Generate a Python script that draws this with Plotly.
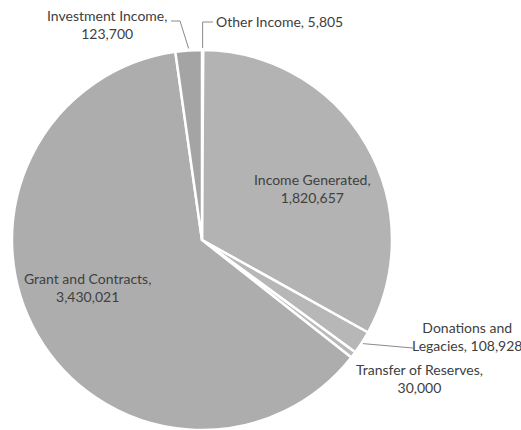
import math
import plotly.graph_objects as go

labels = ["Other Income", "Income Generated", "Donations and Legacies",
          "Transfer of Reserves", "Grant and Contracts", "Investment Income"]
values = [5805, 1820657, 108928, 30000, 3430021, 123700]
colors = ["#b4b4b4", "#b3b3b3", "#b7b7b7", "#b9b9b9", "#adadad", "#a4a4a4"]

W, H = 521, 430
CX, CY, R = 202, 240, 190  # pie centre / radius in pixels

fig = go.Figure(go.Pie(
    labels=labels, values=values, sort=False, direction="clockwise", rotation=0,
    marker=dict(colors=colors, line=dict(color="white", width=2.5)),
    textinfo="none", hoverinfo="skip", showlegend=False,
    domain=dict(x=[(CX - R) / W, (CX + R) / W], y=[(H - CY - R) / H, (H - CY + R) / H]),
))

def fmt(v):
    return f"{v:,}"

def px(x, y):
    return x / W, 1 - y / H

# slice mid-angle edge points (pixels), computed from the values
total = sum(values)
mids = {}
acc = 0
for lab, v in zip(labels, values):
    a = (acc + v / 2) / total * 2 * math.pi
    mids[lab] = (CX + R * math.sin(a), CY - R * math.cos(a))
    acc += v

font = dict(family="Lato, Carlito, sans-serif", size=14, color="#404040")
ann = []
def add(text, x, y, align="center", xanchor="center"):
    ax, ay = px(x, y)
    ann.append(dict(text=text, x=ax, y=ay, xref="paper", yref="paper",
                    showarrow=False, align=align, xanchor=xanchor, yanchor="middle", font=font))

add(f"Income Generated,<br>{fmt(values[1])}", 312, 188)
add(f"Grant and Contracts,<br>{fmt(values[4])}", 87, 287)
add(f"Investment Income,<br>{fmt(values[5])}", 107, 25)
add(f"Other Income, {fmt(values[0])}", 214, 22, align="left", xanchor="left")
add(f"Donations and<br>Legacies, {fmt(values[2])}", 467, 336)
add(f"Transfer of Reserves,<br>{fmt(values[3])}", 419, 378)

shapes = []
def leader(points):
    pts = [px(x, y) for x, y in points]
    path = "M " + " L ".join(f"{x},{y}" for x, y in pts)
    shapes.append(dict(type="path", path=path, xref="paper", yref="paper",
                       line=dict(color="#8a8a8a", width=1)))

mx, my = mids["Investment Income"]
leader([(171, 21), (180, 21), (mx, my - 2)])
mx, my = mids["Other Income"]
leader([(mx, my - 2), (mx, 22), (213, 22)])
mx, my = mids["Donations and Legacies"]
leader([(mx + 1, my + 1), (413, 348)])

fig.update_layout(width=W, height=H, margin=dict(l=0, r=0, t=0, b=0),
                  paper_bgcolor="white", plot_bgcolor="white",
                  annotations=ann, shapes=shapes)
fig.write_html("out.html", config={"displayModeBar": False},
               post_script="document.body.style.margin='0px';")
